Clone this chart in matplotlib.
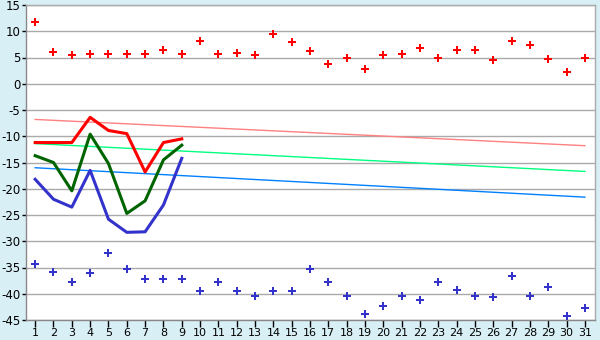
import matplotlib
matplotlib.use("Agg")
import matplotlib.pyplot as plt

days = list(range(1, 32))
max_temps = [11.7, 6.0, 5.4, 5.6, 5.6, 5.6, 5.6, 6.5, 5.6, 8.1, 5.6, 5.8, 5.4, 9.4, 7.9,
             6.2, 3.7, 5.0, 2.8, 5.4, 5.6, 6.8, 5.0, 6.4, 6.4, 4.5, 8.1, 7.3, 4.7, 2.2, 5.0]
min_temps = [-34.4, -35.9, -37.8, -36.1, -32.3, -35.35, -37.1, -37.25, -37.25, -39.5, -37.8,
             -39.5, -40.5, -39.5, -39.5, -35.35, -37.8, -40.5, -43.9, -42.4, -40.5, -41.1,
             -37.8, -39.35, -40.5, -40.7, -36.7, -40.5, -38.8, -44.3, -42.8]
line_days = list(range(1, 10))
red_line = [-11.2, -11.2, -11.2, -6.4, -8.9, -9.5, -16.8, -11.2, -10.5]
green_line = [-13.7, -15.0, -20.4, -9.6, -15.2, -24.7, -22.3, -14.5, -11.7]
blue_line = [-18.2, -22.0, -23.5, -16.5, -25.8, -28.3, -28.2, -23.1, -14.2]
trend_days = [1, 31]
trend_red = [-6.8, -11.8]
trend_green = [-11.4, -16.7]
trend_blue = [-16.0, -21.6]
yticks = list(range(-45, 16, 5))

bg = "#d9eff6"
fig = plt.figure(figsize=(6, 3.4), dpi=100, facecolor=bg)
ax = fig.add_axes([26/600, 1-320/340, (595-26)/600, (320-5)/340])
ax.set_facecolor("white")

for y in yticks:
    ax.axhline(y, color="#aaaaaa", lw=1.0, zorder=1)

ax.plot(trend_days, trend_red, color="#ff8080", lw=1.0, zorder=2)
ax.plot(trend_days, trend_green, color="#00ff80", lw=1.0, zorder=2)
ax.plot(trend_days, trend_blue, color="#0080ff", lw=1.0, zorder=2)

ax.plot(line_days, blue_line, color="#3333cc", lw=2.2, zorder=3)
ax.plot(line_days, green_line, color="#006400", lw=2.2, zorder=3)
ax.plot(line_days, red_line, color="#ff0000", lw=2.2, zorder=3)

ax.plot(days, max_temps, linestyle="none", marker="P", ms=6, color="#ff0000",
        markeredgewidth=0, zorder=4)
ax.plot(days, min_temps, linestyle="none", marker="P", ms=6, color="#3333cc",
        markeredgewidth=0, zorder=4)

ax.set_xlim(0.5, 31.55)
ax.set_ylim(-45, 15)
ax.set_xticks(days)
ax.set_xticklabels([str(d) for d in days])
ax.set_yticks(yticks)
ax.set_yticklabels([str(y) for y in yticks])
ax.tick_params(axis="x", length=5, width=1, color="black", labelsize=8, pad=1)
ax.tick_params(axis="y", length=3, width=1, color="black", labelsize=8.5, pad=1)

for s in ["left", "bottom"]:
    ax.spines[s].set_color("#888888")
for s in ["top", "right"]:
    ax.spines[s].set_color("#aaaaaa")
for s in ax.spines.values():
    s.set_linewidth(1.0)

fig.savefig("out.png", dpi=100, facecolor=bg)
